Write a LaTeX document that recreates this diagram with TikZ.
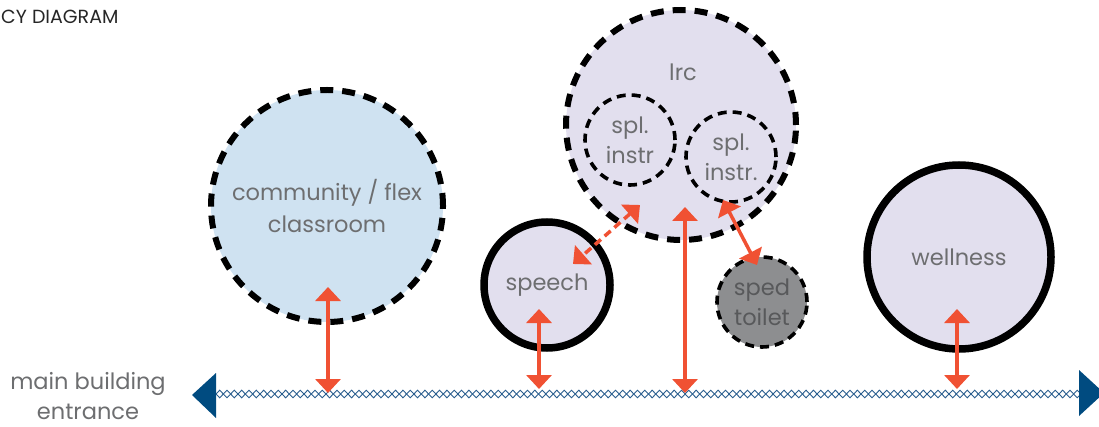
\documentclass[tikz,border=0pt]{standalone}
\usepackage{fontspec}
\setmainfont{Poppins}
\usetikzlibrary{arrows.meta}

\definecolor{lav}{HTML}{E2DFEE}
\definecolor{skyfill}{HTML}{CFE2F1}
\definecolor{wcfill}{HTML}{8D8E90}
\definecolor{linkred}{HTML}{F05133}
\definecolor{navy}{HTML}{004B80}
\definecolor{chainblue}{HTML}{2A5E8E}
\definecolor{labelgray}{HTML}{6D6E70}
\definecolor{darklabel}{HTML}{58595B}

\tikzset{
  room/.style={circle, inner sep=0pt, align=center, text=labelgray,
    font=\fontsize{22.5}{32}\selectfont},
  smallroom/.style={room, font=\fontsize{22.5}{30}\selectfont},
  bigdash/.style={draw=black, line width=6pt, dash pattern=on 13pt off 9pt},
  smalldash/.style={draw=black, line width=3.6pt, dash pattern=on 9pt off 6pt},
  solidring/.style={draw=black, line width=7.5pt},
  link/.style={draw=linkred, line width=3.5pt,
    {Triangle[length=14pt,width=25pt]}-{Triangle[length=14pt,width=25pt]}},
  chain/.style={draw=chainblue, line width=0.9pt},
  endcap/.style={fill=navy},
  caption/.style={text=labelgray, align=center, font=\fontsize{22.5}{30}\selectfont}
}

\begin{document}
\begin{tikzpicture}[x=1pt,y=-1pt]
\useasboundingbox (0,0) rectangle (1099,427);

% heading
\node[anchor=west, inner sep=0pt, text=black!85, font=\fontsize{19}{22}\selectfont]
  (title) at (1,17) {CY DIAGRAM};

% rooms
\node[room, bigdash, fill=skyfill, minimum size=232pt] (flex) at (327,206)
  {community / flex\\classroom};
\node[room, bigdash, fill=lav, minimum size=230pt] (lrc) at (681,125) {};
\node[room] (lrclabel) at (683,72) {lrc};
\node[smallroom, smalldash, fill=lav, minimum size=90pt] (splA) at (630,140) {spl.\\instr};
\node[smallroom, smalldash, fill=lav, minimum size=90pt] (splB) at (731,157) {spl.\\instr.};
\node[room, solidring, fill=lav, minimum size=126pt] (speech) at (547,285) {speech};
\node[smallroom, smalldash, fill=wcfill, text=darklabel, minimum size=90pt] (toilet) at (762,302)
  {sped\\toilet};
\node[room, solidring, fill=lav, minimum size=184pt] (wellness) at (959,257) {wellness};

% entrance line
\coordinate (lineL) at (216,394);
\coordinate (lineR) at (1079,394);
\foreach \i in {0,...,117} {
  \draw[chain] ([xshift={\i*7.33pt}]lineL) -- ++(3.665,-3.8) -- ++(3.665,3.8)
    -- ++(-3.665,3.8) -- cycle;
}
\fill[endcap] (lineL) ++(0,-21) -- ++(0,45) -- (192,395) -- cycle;
\fill[endcap] (lineR) ++(0,-24) -- ++(0,46) -- (1104,393) -- cycle;

\node[caption] (entrance) at (88,396) {main building\\entrance};

% connections
\coordinate (flexIn) at (328,287);
\coordinate (flexOut) at (328,393);
\coordinate (speechIn) at (539,309);
\coordinate (speechOut) at (539,389);
\coordinate (lrcIn) at (685,207);
\coordinate (lrcOut) at (685,393);
\coordinate (wellIn) at (957,309);
\coordinate (wellOut) at (957,389);
\coordinate (splAEnd) at (640,205);
\coordinate (speechEnd) at (573,264);
\coordinate (splBEnd) at (723,200);
\coordinate (toiletEnd) at (757,265);

\draw[link] (flexIn) -- (flexOut);
\draw[link] (speechIn) -- (speechOut);
\draw[link] (lrcIn) -- (lrcOut);
\draw[link] (wellIn) -- (wellOut);
\draw[link, dash pattern=on 8pt off 5pt] (splAEnd) -- (speechEnd);
\draw[link] (splBEnd) -- (toiletEnd);
\end{tikzpicture}
\end{document}
